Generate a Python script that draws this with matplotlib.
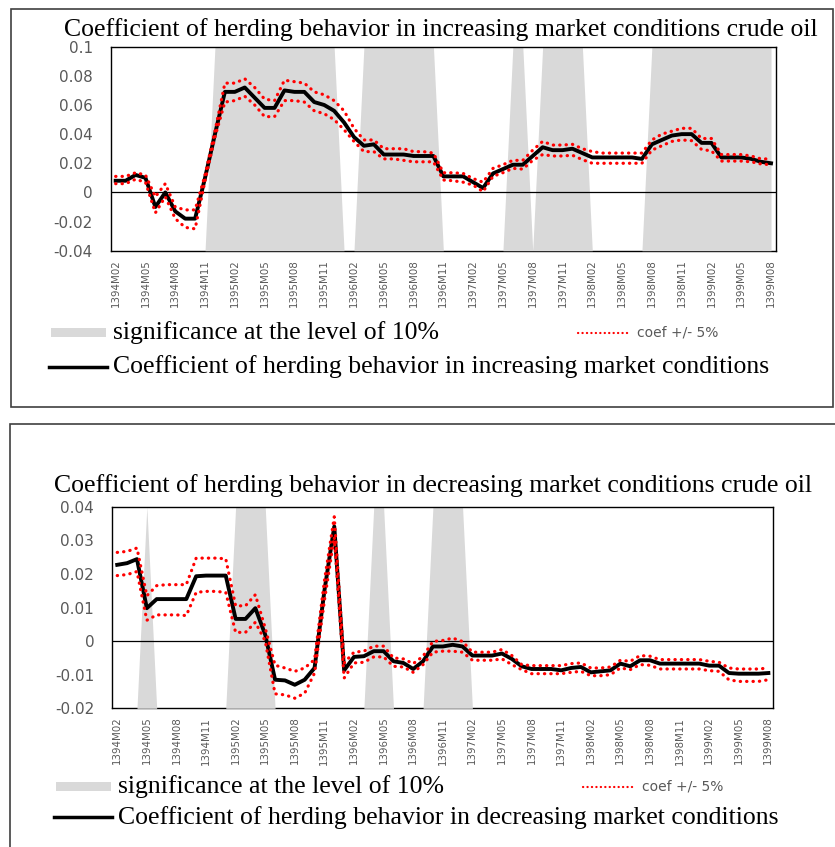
import matplotlib
matplotlib.use('Agg')
import matplotlib.pyplot as plt
from matplotlib.lines import Line2D
from matplotlib.patches import Rectangle
import numpy as np

# tick labels (every 3rd month, 67 monthly points 1394M02 .. 1399M08)
tick_labels = ['1394M02', '1394M05', '1394M08', '1394M11',
               '1395M02', '1395M05', '1395M08', '1395M11',
               '1396M02', '1396M05', '1396M08', '1396M11',
               '1397M02', '1397M05', '1397M08', '1397M11',
               '1398M02', '1398M05', '1398M08', '1398M11',
               '1399M02', '1399M05', '1399M08']

# increasing market conditions
coef_up = [0.008, 0.008, 0.012, 0.010, -0.010, 0.000, -0.013, -0.018, -0.018, 0.010,
           0.040, 0.069, 0.069, 0.072, 0.065, 0.058, 0.058, 0.070, 0.069, 0.069,
           0.062, 0.060, 0.056, 0.048, 0.038, 0.032, 0.033, 0.026, 0.026, 0.026,
           0.025, 0.025, 0.025, 0.011, 0.011, 0.011, 0.007, 0.003, 0.013, 0.016,
           0.019, 0.019, 0.025, 0.031, 0.029, 0.029, 0.030, 0.027, 0.024, 0.024,
           0.024, 0.024, 0.024, 0.023, 0.033, 0.036, 0.039, 0.040, 0.040, 0.034,
           0.034, 0.024, 0.024, 0.024, 0.023, 0.021, 0.020]
upper_up = [0.011, 0.011, 0.0135, 0.012, -0.003, 0.006, -0.010, -0.012, -0.012, 0.012,
            0.042, 0.075, 0.075, 0.078, 0.072, 0.064, 0.063, 0.077, 0.076, 0.075,
            0.069, 0.067, 0.063, 0.056, 0.044, 0.036, 0.036, 0.030, 0.030, 0.030,
            0.028, 0.028, 0.027, 0.0135, 0.0135, 0.013, 0.0095, 0.007, 0.0165, 0.019,
            0.022, 0.022, 0.029, 0.035, 0.0325, 0.0325, 0.033, 0.030, 0.028, 0.027,
            0.027, 0.027, 0.027, 0.027, 0.036, 0.040, 0.042, 0.044, 0.044, 0.037,
            0.037, 0.026, 0.026, 0.026, 0.025, 0.023, 0.023]
lower_up = [0.006, 0.006, 0.009, 0.007, -0.014, -0.003, -0.018, -0.024, -0.025, 0.008,
            0.038, 0.062, 0.063, 0.066, 0.060, 0.052, 0.052, 0.063, 0.063, 0.062,
            0.056, 0.054, 0.050, 0.043, 0.035, 0.028, 0.028, 0.023, 0.023, 0.022,
            0.021, 0.021, 0.021, 0.0085, 0.008, 0.007, 0.005, 0.0005, 0.011, 0.0135,
            0.0165, 0.016, 0.022, 0.026, 0.025, 0.025, 0.0255, 0.0225, 0.020, 0.020,
            0.020, 0.020, 0.020, 0.020, 0.029, 0.032, 0.035, 0.036, 0.0355, 0.0295,
            0.0285, 0.0215, 0.0215, 0.0215, 0.021, 0.0195, 0.019]
sig_up = [0, 0, 0, 0, 0, 0, 0, 0, 0, 0,
          1, 1, 1, 1, 1, 1, 1, 1, 1, 1,
          1, 1, 1, 0, 0, 1, 1, 1, 1, 1,
          1, 1, 1, 0, 0, 0, 0, 0, 0, 0,
          1, 1, 0, 1, 1, 1, 1, 1, 0, 0,
          0, 0, 0, 0, 1, 1, 1, 1, 1, 1,
          1, 1, 1, 1, 1, 1, 1]

# decreasing market conditions
coef_down = [0.0227, 0.0232, 0.0244, 0.0098, 0.0125, 0.0125, 0.0125, 0.0125, 0.0193, 0.0195,
             0.0195, 0.0195, 0.0066, 0.0066, 0.0098, 0.0019, -0.0115, -0.0117, -0.013, -0.0115,
             -0.008, 0.015, 0.0341, -0.0087, -0.0047, -0.0045, -0.003, -0.003, -0.006, -0.0065,
             -0.0083, -0.006, -0.0016, -0.0016, -0.0011, -0.0016, -0.0043, -0.0043, -0.0043, -0.0037,
             -0.0053, -0.0075, -0.0083, -0.0083, -0.0083, -0.0087, -0.008, -0.0077, -0.0093, -0.009,
             -0.0087, -0.0067, -0.0075, -0.0057, -0.0057, -0.0067, -0.0067, -0.0067, -0.0067, -0.0067,
             -0.0073, -0.0073, -0.0095, -0.0097, -0.0097, -0.0097, -0.0095]
upper_down = [0.0264, 0.0267, 0.0277, 0.0135, 0.0165, 0.0168, 0.0168, 0.0168, 0.0247, 0.0247,
              0.0247, 0.0245, 0.0105, 0.0105, 0.0138, 0.0039, -0.0072, -0.008, -0.009, -0.008,
              -0.0055, 0.018, 0.037, -0.0065, -0.0033, -0.003, -0.0015, -0.0015, -0.005, -0.0053,
              -0.0067, -0.0045, -0.0001, 0.0002, 0.0009, -0.0001, -0.0033, -0.0033, -0.0033, -0.0025,
              -0.0043, -0.007, -0.0073, -0.0073, -0.0073, -0.0073, -0.0067, -0.0065, -0.008, -0.008,
              -0.0077, -0.0057, -0.006, -0.0043, -0.0045, -0.0055, -0.0055, -0.0055, -0.0055, -0.0055,
              -0.006, -0.0063, -0.008, -0.0083, -0.0083, -0.0083, -0.008]
lower_down = [0.0195, 0.0198, 0.0207, 0.0062, 0.0078, 0.0078, 0.0078, 0.0076, 0.0145, 0.0148,
              0.0148, 0.0145, 0.0026, 0.0026, 0.0056, 0.0000, -0.0157, -0.016, -0.017, -0.0155,
              -0.0095, 0.012, 0.031, -0.011, -0.0065, -0.0063, -0.0047, -0.0047, -0.0075, -0.0077,
              -0.0093, -0.007, -0.0033, -0.003, -0.003, -0.0033, -0.0057, -0.0057, -0.0057, -0.0053,
              -0.007, -0.0085, -0.0097, -0.0097, -0.0097, -0.0097, -0.0093, -0.009, -0.0103, -0.0103,
              -0.01, -0.008, -0.0085, -0.007, -0.0072, -0.0083, -0.0083, -0.0083, -0.0083, -0.0083,
              -0.0088, -0.009, -0.0115, -0.012, -0.012, -0.012, -0.0115]
sig_down = [0, 0, 0, 1, 0, 0, 0, 0, 0, 0,
            0, 0, 1, 1, 1, 1, 0, 0, 0, 0,
            0, 0, 0, 0, 0, 0, 1, 1, 0, 0,
            0, 0, 1, 1, 1, 1, 0, 0, 0, 0,
            0, 0, 0, 0, 0, 0, 0, 0, 0, 0,
            0, 0, 0, 0, 0, 0, 0, 0, 0, 0,
            0, 0, 0, 0, 0, 0, 0]

yticks_up = [0.1, 0.08, 0.06, 0.04, 0.02, 0, -0.02, -0.04]
ylabels_up = ['0.1', '0.08', '0.06', '0.04', '0.02', '0', '-0.02', '-0.04']
yticks_down = [0.04, 0.03, 0.02, 0.01, 0, -0.01, -0.02]
ylabels_down = ['0.04', '0.03', '0.02', '0.01', '0', '-0.01', '-0.02']

W, H = 835, 847
GREY = '#D9D9D9'
TXT = '#595959'
SERIF = 'Liberation Serif'
BIG = 18.5
DOTS = (0, (0.1, 1.9))

fig = plt.figure(figsize=(W / 100, H / 100), dpi=100)


def fx(px):
    return px / W


def fy(py):
    return 1 - py / H


def panel(rect, coef, upper, lower, sig, yticks, ylabels):
    left, top, right, bottom = rect
    ax = fig.add_axes([fx(left), fy(bottom), (right - left) / W, (bottom - top) / H])
    x = np.arange(len(coef))
    ymin, ymax = min(yticks), max(yticks)
    ax.fill_between(x, ymin, ymin + np.array(sig) * (ymax - ymin),
                    color=GREY, lw=0, zorder=1)
    ax.axhline(0, color='black', lw=0.9, zorder=2)
    ax.plot(x, coef, color='black', lw=2.8, zorder=3, solid_joinstyle='round')
    for band in (upper, lower):
        ax.plot(x, band, color='red', lw=2.3, ls=DOTS, dash_capstyle='round', zorder=4)
    ax.set_xlim(-0.5, len(coef) - 0.5)
    ax.set_ylim(ymin, ymax)
    ax.set_yticks(yticks)
    ax.set_yticklabels(ylabels, color=TXT, fontsize=11, family='DejaVu Sans')
    ax.set_xticks(x[::3])
    ax.set_xticklabels(tick_labels, rotation=90, color=TXT, fontsize=7.4,
                       family='DejaVu Sans')
    ax.tick_params(axis='y', length=0, pad=13)
    ax.tick_params(axis='x', length=0, pad=6)
    for s in ax.spines.values():
        s.set_color('black')
        s.set_linewidth(1.0)
    ax.spines['bottom'].set_zorder(0.5)
    return ax


def legend(y1, y2, x0, text2):
    fig.patches.append(Rectangle((fx(x0), fy(y1 + 4.5)), 55 / W, 9 / H,
                                 transform=fig.transFigure, color=GREY, lw=0))
    fig.text(fx(x0 + 62), fy(y1), 'significance at the level of 10%',
             ha='left', va='center', fontsize=BIG, family=SERIF)
    fig.lines.append(Line2D([fx(x0 + 527), fx(x0 + 577)], [fy(y1), fy(y1)],
                            transform=fig.transFigure, color='red', lw=1.6,
                            ls=DOTS, dash_capstyle='round'))
    fig.text(fx(x0 + 586), fy(y1), 'coef +/- 5%', ha='left', va='center',
             fontsize=10, color=TXT, family='DejaVu Sans')
    fig.lines.append(Line2D([fx(x0 - 2), fx(x0 + 56)], [fy(y2), fy(y2)],
                            transform=fig.transFigure, color='black', lw=2.5))
    fig.text(fx(x0 + 62), fy(y2), text2, ha='left', va='center',
             fontsize=BIG, family=SERIF)


# panel frames
fig.patches.append(Rectangle((fx(11), fy(407)), 822 / W, 398 / H, transform=fig.transFigure,
                             fill=False, edgecolor='#404040', lw=1.2))
fig.patches.append(Rectangle((fx(10), fy(870)), 850 / W, 446 / H, transform=fig.transFigure,
                             fill=False, edgecolor='#404040', lw=1.2))

# top chart
panel((110.7, 46.7, 776, 250.7), coef_up, upper_up, lower_up, sig_up,
      yticks_up, ylabels_up)
fig.text(fx(441), fy(29.5), 'Coefficient of herding behavior in increasing market conditions crude oil',
         ha='center', va='center', fontsize=BIG, family=SERIF)
legend(333, 366.7, 51, 'Coefficient of herding behavior in increasing market conditions')

# bottom chart
panel((112.3, 506.7, 773.3, 708.3), coef_down, upper_down, lower_down, sig_down,
      yticks_down, ylabels_down)
fig.text(fx(432.5), fy(486), 'Coefficient of herding behavior in decreasing market conditions crude oil',
         ha='center', va='center', fontsize=BIG, family=SERIF)
legend(786.7, 817.3, 56, 'Coefficient of herding behavior in decreasing market conditions')

fig.savefig('out.png', dpi=100)
